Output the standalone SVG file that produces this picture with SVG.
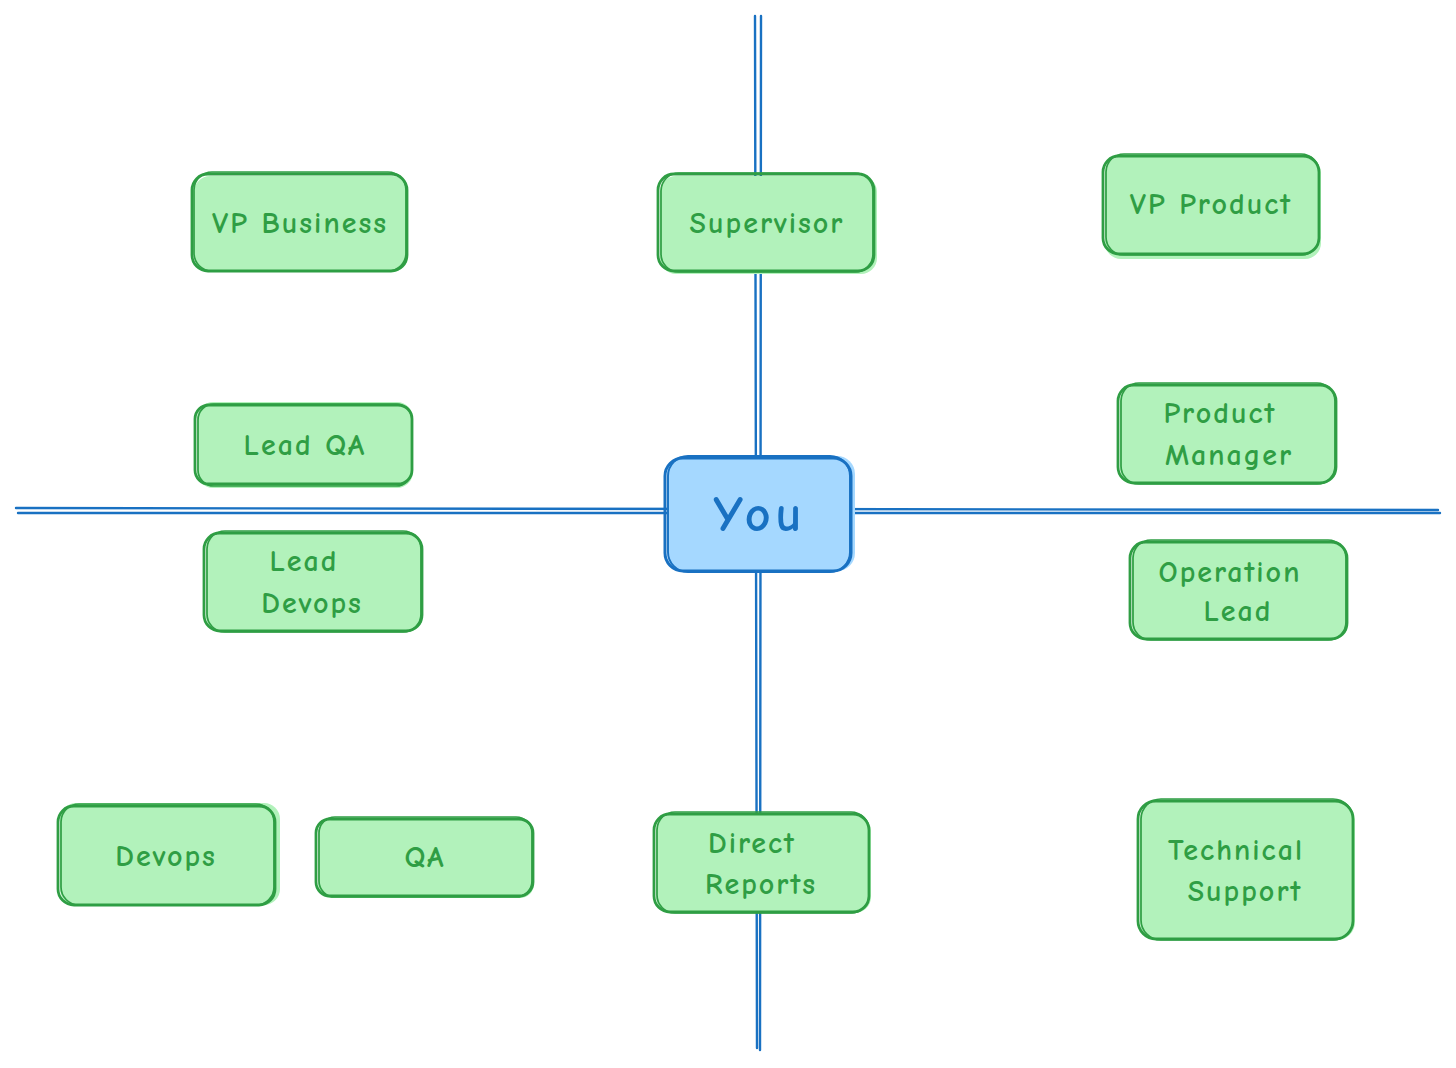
<svg xmlns="http://www.w3.org/2000/svg" width="1456" height="1068" viewBox="0 0 1456 1068">
<style>
.axis{stroke:#1971c2;stroke-width:2.4;fill:none;stroke-linecap:round}
.g .f{fill:#b2f2bb;stroke:none}
.g .s{fill:none;stroke:#2f9e44;stroke-width:2.8}
.g .s2{fill:none;stroke:#2f9e44;stroke-width:1.7}
.g text{fill:#2f9e44}
.b .f{fill:#a5d8ff;stroke:none}
.b .s{fill:none;stroke:#1971c2;stroke-width:3}
.b .s2{fill:none;stroke:#1971c2;stroke-width:1.9}
.b text{fill:#1971c2}
text{font-family:"Comic Neue","Comic Sans MS","Lato","DejaVu Sans",sans-serif;font-size:30px;font-weight:bold;letter-spacing:2px;text-anchor:middle}
</style>
<rect width="1456" height="1068" fill="#ffffff"/>
<g id="axes">
<path class="axis" d="M755 16 L757 1048"/>
<path class="axis" d="M761 16 L760 1050"/>
<path class="axis" d="M16 508 L1438 510"/>
<path class="axis" d="M18 513 L1440 513"/>
</g>
<g id="node-vp-business" class="g">
<rect class="f" x="194" y="176" width="214" height="96" rx="16"/>
<rect class="s" x="192" y="174" width="215" height="97" rx="16"/>
<rect class="s2" x="194" y="172" width="212" height="99" rx="18"/>
<text x="300" y="233">VP Business</text>
</g>
<g id="node-supervisor" class="g">
<rect class="f" x="660" y="176" width="217" height="98" rx="16"/>
<rect class="s" x="658" y="174" width="216" height="97" rx="16"/>
<rect class="s2" x="661" y="173" width="212" height="99" rx="18"/>
<text x="767" y="233">Supervisor</text>
</g>
<g id="node-vp-product" class="g">
<rect class="f" x="1105" y="157" width="216" height="102" rx="16"/>
<rect class="s" x="1103" y="156" width="216" height="98" rx="16"/>
<rect class="s2" x="1106" y="154" width="213" height="101" rx="18"/>
<text x="1211" y="214">VP Product</text>
</g>
<g id="node-lead-qa" class="g">
<rect class="f" x="197" y="402" width="216" height="86" rx="16"/>
<rect class="s" x="195" y="405" width="217" height="79" rx="14"/>
<rect class="s2" x="198" y="404" width="214" height="82" rx="16"/>
<text x="305" y="455">Lead QA</text>
</g>
<g id="node-product-manager" class="g">
<rect class="f" x="1120" y="386" width="217" height="98" rx="16"/>
<rect class="s" x="1118" y="385" width="218" height="98" rx="16"/>
<rect class="s2" x="1121" y="383" width="214" height="101" rx="18"/>
<text x="1220" y="423">Product</text>
<text x="1229" y="465">Manager</text>
</g>
<g id="node-you" class="b">
<rect class="f" x="667" y="456" width="188" height="115" rx="18"/>
<rect class="s" x="665" y="458" width="186" height="113" rx="18"/>
<rect class="s2" x="668" y="456" width="182" height="116" rx="20"/>
<text x="760" y="531" style="font-size:50px;letter-spacing:5px">You</text>
</g>
<g id="node-lead-devops" class="g">
<rect class="f" x="206" y="534" width="217" height="98" rx="16"/>
<rect class="s" x="204" y="533" width="218" height="98" rx="16"/>
<rect class="s2" x="207" y="531" width="214" height="101" rx="18"/>
<text x="304" y="571">Lead</text>
<text x="312" y="613">Devops</text>
</g>
<g id="node-operation-lead" class="g">
<rect class="f" x="1132" y="543" width="216" height="97" rx="16"/>
<rect class="s" x="1130" y="542" width="217" height="97" rx="16"/>
<rect class="s2" x="1133" y="540" width="213" height="100" rx="18"/>
<text x="1230" y="582">Operation</text>
<text x="1238" y="621">Lead</text>
</g>
<g id="node-devops" class="g">
<rect class="f" x="60" y="803" width="220" height="102" rx="16"/>
<rect class="s" x="58" y="806" width="217" height="99" rx="16"/>
<rect class="s2" x="61" y="804" width="213" height="101" rx="18"/>
<text x="166" y="866">Devops</text>
</g>
<g id="node-qa" class="g">
<rect class="f" x="318" y="820" width="216" height="78" rx="14"/>
<rect class="s" x="316" y="819" width="217" height="77" rx="14"/>
<rect class="s2" x="319" y="817" width="213" height="80" rx="16"/>
<text x="425" y="867">QA</text>
</g>
<g id="node-direct-reports" class="g">
<rect class="f" x="656" y="815" width="215" height="98" rx="16"/>
<rect class="s" x="654" y="814" width="215" height="98" rx="16"/>
<rect class="s2" x="657" y="812" width="212" height="101" rx="18"/>
<text x="752" y="853">Direct</text>
<text x="761" y="894">Reports</text>
</g>
<g id="node-technical-support" class="g">
<rect class="f" x="1140" y="802" width="215" height="138" rx="18"/>
<rect class="s" x="1138" y="801" width="215" height="138" rx="18"/>
<rect class="s2" x="1141" y="799" width="212" height="141" rx="20"/>
<text x="1236" y="860">Technical</text>
<text x="1245" y="901">Support</text>
</g>
</svg>
